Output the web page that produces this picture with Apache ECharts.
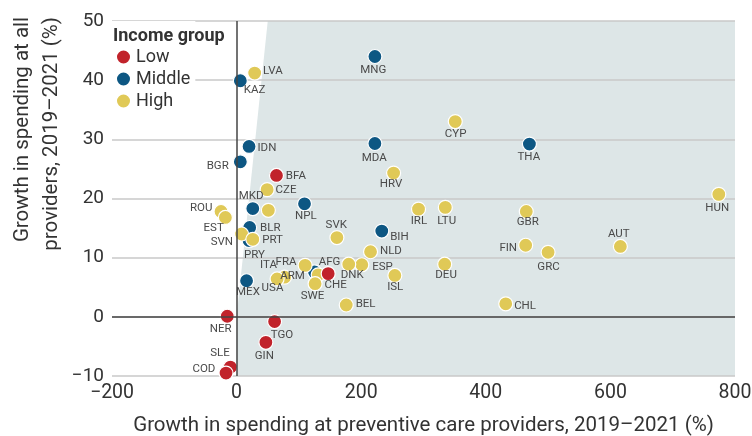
<!DOCTYPE html>
<html>
<head>
<meta charset="utf-8">
<title>Preventive care spending growth</title>
<script src="https://cdn.jsdelivr.net/npm/echarts@6/dist/echarts.min.js"></script>
<style>
  html, body { margin: 0; padding: 0; background: #fff; }
  #chart { width: 752px; height: 436px; }
</style>
</head>
<body>
<div id="chart"></div>
<script>
// income groups, legend order
const groups = ['Low', 'Middle', 'High']

// [growth at preventive care providers %, growth at all providers %, country]
const lowData = [
  [64, 23.9, 'BFA'], [147, 7.3, 'AFG'], [-15, 0.1, 'NER'], [61, -0.8, 'TGO'],
  [47, -4.3, 'GIN'], [-10, -8.5, 'SLE'], [-17, -9.5, 'COD']
]
const middleData = [
  [6, 39.9, 'KAZ'], [20, 28.8, 'IDN'], [6, 26.2, 'BGR'], [26, 18.3, 'MKD'],
  [109, 19.1, 'NPL'], [21, 15.1, 'BLR'], [20, 12.9, 'PRY'], [233, 14.5, 'BIH'],
  [125, 7.6, 'ARM'], [16, 6.1, 'MEX'], [222, 44.0, 'MNG'], [222, 29.3, 'MDA'],
  [470, 29.2, 'THA']
]
const highData = [
  [29, 41.2, 'LVA'], [49, 21.5, 'CZE'], [51, 18.0, ''], [-25, 17.8, 'ROU'],
  [-18, 16.8, 'EST'], [8, 14.0, 'SVN'], [26, 13.1, 'PRT'], [161, 13.4, 'SVK'],
  [215, 11.0, 'NLD'], [252, 24.3, 'HRV'], [292, 18.2, 'IRL'], [335, 18.5, 'LTU'],
  [465, 17.8, 'GBR'], [464, 12.1, 'FIN'], [500, 10.9, 'GRC'], [616, 11.9, 'AUT'],
  [774, 20.7, 'HUN'], [432, 2.2, 'CHL'], [334, 8.9, 'DEU'], [254, 7.0, 'ISL'],
  [176, 2.0, 'BEL'], [201, 8.8, 'ESP'], [180, 8.9, 'DNK'], [131, 7.1, 'CHE'],
  [126, 5.6, 'SWE'], [110, 8.7, 'FRA'], [77, 6.7, 'ITA'], [65, 6.4, 'USA'],
  [351, 33.0, 'CYP']
]

// area where preventive growth outpaced total growth
const shadeVertices = [[0, -10], [800, -10], [800, 50], [50, 50], [0, 0]]

const xTicks = { min: -200, max: 800, interval: 200 }
const yTicks = { min: -10, max: 50, interval: 10 }

const xTitle = 'Growth in spending at preventive care providers, 2019\u20132021 (%)'
const yTitle = 'Growth in spending at all\nproviders, 2019\u20132021 (%)'

const colors = { Low: '#c1232b', Middle: '#0d5783', High: '#e0c957' }

// label offset from the dot centre: [dx, dy, align]
const labelPlace = {
  LVA: [9, -1, 'left'], KAZ: [4, 10, 'left'], IDN: [9, 2, 'left'], BGR: [-11, 5, 'right'],
  BFA: [10, 1, 'left'], CZE: [9, 1, 'left'], MKD: [-1, -12, 'center'], NPL: [2, 13, 'center'],
  ROU: [-8, -3, 'right'], EST: [-1, 11, 'right'], BLR: [11, 1, 'left'], SVN: [-8, 9, 'right'],
  PRY: [6, 15, 'center'], PRT: [10, 1, 'left'], SVK: [0, -12, 'center'], NLD: [10, 0, 'left'],
  BIH: [9, 7, 'left'], HRV: [-2, 12, 'center'], IRL: [1, 13, 'center'], LTU: [2, 14, 'center'],
  GBR: [2, 11, 'center'], FIN: [-8, 3, 'right'], GRC: [1, 15, 'center'], AUT: [-1, -12, 'center'],
  HUN: [-1, 14, 'center'], CHL: [9, 3, 'left'], DEU: [2, 12, 'center'], ISL: [1, 12, 'center'],
  BEL: [10, 0, 'left'], ESP: [11, 3, 'left'], DNK: [4, 12, 'center'], AFG: [2, -11, 'center'],
  CHE: [7, 11, 'left'], SWE: [-2, 13, 'center'], ARM: [-9, 5, 'right'], FRA: [-8, -3, 'right'],
  ITA: [-7, -11, 'right'], USA: [-4, 10, 'center'], MEX: [2, 12, 'center'], NER: [-6, 13, 'center'],
  TGO: [8, 14, 'center'], GIN: [-1, 14, 'center'], SLE: [0, -13, 'right'], COD: [-10, -3, 'right'],
  MNG: [-1, 14, 'center'], CYP: [1, 13, 'center'], MDA: [0, 15, 'center'], THA: [0, 14, 'center']
}

const font = 'Roboto, "Noto Sans", sans-serif'
const symbolSize = 14
const minus = v => String(v).replace('-', '\u2212')

function toItems(rows) {
  return rows.map(r => {
    const p = labelPlace[r[2]] || [0, 0, 'center']
    return {
      value: r,
      label: {
        position: [symbolSize / 2 + p[0], symbolSize / 2 + p[1]],
        align: p[2],
        verticalAlign: 'middle'
      }
    }
  })
}

function scatter(name, rows) {
  return {
    name: name,
    type: 'scatter',
    symbolSize: symbolSize,
    data: toItems(rows),
    itemStyle: { color: colors[name], borderColor: '#fff', borderWidth: 1.2, opacity: 1 },
    label: {
      show: true,
      formatter: p => p.value[2],
      fontFamily: font,
      fontSize: 11.5,
      color: '#4a4a4a'
    },
    emphasis: { disabled: true }
  }
}

const chart = echarts.init(document.getElementById('chart'))
chart.setOption({
  animation: false,
  textStyle: { fontFamily: font },
  grid: { left: 112, right: 17, top: 21, bottom: 60, containLabel: false, outerBoundsMode: 'none' },
  title: {
    text: 'Income group',
    left: 113,
    top: 27,
    padding: 0,
    textStyle: { fontFamily: font, fontSize: 18, fontWeight: 'bold', color: '#333' }
  },
  legend: {
    data: groups,
    orient: 'vertical',
    left: 112,
    top: 21,
    padding: [27, 5, 8, 3],
    backgroundColor: '#fff',
    icon: 'circle',
    itemWidth: 15,
    itemHeight: 15,
    itemGap: 4,
    textStyle: { fontFamily: font, fontSize: 18, color: '#333', lineHeight: 18 }
  },
  // y title sits toward the top, lines aligned at their upper end
  graphic: [{
    type: 'text',
    x: 37,
    y: 17,
    rotation: Math.PI / 2,
    silent: true,
    style: {
      text: yTitle,
      fill: '#333',
      font: '20.5px ' + font,
      lineHeight: 29,
      align: 'right',
      verticalAlign: 'middle'
    }
  }],
  xAxis: {
    type: 'value',
    min: xTicks.min,
    max: xTicks.max,
    interval: xTicks.interval,
    name: xTitle,
    nameLocation: 'middle',
    nameGap: 39,
    nameTextStyle: { fontFamily: font, fontSize: 20.5, color: '#333' },
    axisLine: { show: false },
    axisTick: { show: false },
    splitLine: { show: false },
    axisLabel: { formatter: minus, fontFamily: font, fontSize: 19.5, color: '#333', margin: 7 }
  },
  yAxis: {
    type: 'value',
    min: yTicks.min,
    max: yTicks.max,
    interval: yTicks.interval,
    axisLine: { show: false },
    axisTick: { show: false },
    splitLine: { lineStyle: { color: '#c9c9c9', width: 1.5 } },
    axisLabel: { formatter: minus, fontFamily: font, fontSize: 19, color: '#333', margin: 8 }
  },
  series: [
    {
      type: 'custom',
      z: -1,
      silent: true,
      data: [[0, 0]],
      renderItem: (params, api) => ({
        type: 'polygon',
        shape: { points: shadeVertices.map(v => api.coord(v)) },
        style: { fill: '#dde6e7' }
      }),
      markLine: {
        silent: true,
        symbol: 'none',
        label: { show: false },
        lineStyle: { color: '#444', width: 1.5, type: 'solid' },
        data: [{ xAxis: 0 }, { yAxis: 0 }]
      }
    },
    scatter('Middle', middleData),
    scatter('High', highData),
    scatter('Low', lowData)
  ]
})
</script>
</body>
</html>
